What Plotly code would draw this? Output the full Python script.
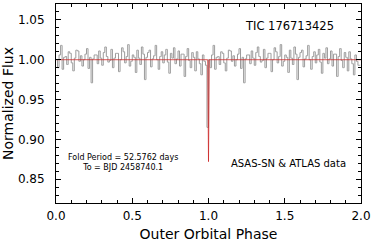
import plotly.graph_objects as go

# ---- data ----
bin_width = 0.01
flux_cycle = [
    1.000, 0.990, 1.006, 1.018, 0.988, 1.003, 1.004, 0.994, 1.010, 1.008,
    0.996, 0.986, 1.002, 1.012, 1.011, 0.998, 1.005, 0.992, 1.000, 1.007,
    1.014, 0.989, 1.003, 0.971, 1.001, 1.006, 1.006, 0.995, 1.011, 1.002,
    0.993, 1.009, 1.016, 1.004, 0.997, 0.999, 1.013, 0.990, 1.002, 1.008,
    1.008, 0.985, 1.000, 1.015, 1.010, 0.996, 1.004, 1.019, 0.992, 0.998,
    1.006, 1.003, 0.984, 1.012, 1.002, 0.994, 1.016, 1.007, 0.975, 1.003,
    1.009, 1.012, 0.991, 1.001, 1.005, 1.018, 1.000, 0.988, 1.004, 1.010,
    0.996, 1.006, 1.013, 0.997, 0.983, 1.008, 1.002, 1.015, 0.995, 1.001,
    1.011, 0.992, 1.007, 1.007, 0.979, 1.004, 1.014, 0.999, 0.990, 1.009,
    1.003, 0.986, 1.010, 1.001, 0.995, 0.981, 1.006, 0.998, 0.993,
]
dip_phase = 0.995
dip_flux = 0.915

model_phase = [0.0, 0.995, 1.0, 1.005, 2.0]
model_flux = [1.0, 1.0, 0.872, 1.0, 1.0]

x_ticks = [0.0, 0.5, 1.0, 1.5, 2.0]
x_ticklabels = ["0.0", "0.5", "1.0", "1.5", "2.0"]
y_ticks = [0.85, 0.90, 0.95, 1.00, 1.05]
y_ticklabels = ["0.85", "0.90", "0.95", "1.00", "1.05"]

# build folded (duplicated) series
phase = []
flux = []
for cycle in range(2):
    for i, f in enumerate(flux_cycle):
        phase.append(cycle + (i + 0.5) * bin_width)
        flux.append(f)
    if cycle == 0:
        phase.append(dip_phase)
        flux.append(dip_flux)
    else:
        phase.append(1 + dip_phase)
        flux.append(flux_cycle[-1])

FONT = "DejaVu Sans"

fig = go.Figure()
fig.add_trace(go.Scatter(x=phase, y=flux, mode="lines", line_shape="hvh",
                         line=dict(color="rgb(155,155,155)", width=1),
                         showlegend=False, hoverinfo="skip"))
fig.add_trace(go.Scatter(x=model_phase, y=model_flux, mode="lines",
                         line=dict(color="rgba(205,40,40,0.8)", width=1),
                         showlegend=False, hoverinfo="skip"))

axis_common = dict(showline=True, linecolor="black", linewidth=1, mirror="allticks",
                   ticks="inside", ticklen=5, tickcolor="black", showgrid=False,
                   zeroline=False, tickfont=dict(family=FONT, size=12, color="black"))

fig.update_xaxes(range=[0, 2], tickvals=x_ticks, ticktext=x_ticklabels,
                 minor=dict(ticks="inside", ticklen=3, dtick=0.1, tickcolor="black", showgrid=False),
                 ticklabelstandoff=2,
                 title=dict(text="Outer Orbital Phase", font=dict(family=FONT, size=14, color="black"),
                            standoff=6),
                 **axis_common)
fig.update_yaxes(range=[0.82, 1.07], tickvals=y_ticks, ticktext=y_ticklabels,
                 minor=dict(ticks="inside", ticklen=3, dtick=0.01, tickcolor="black", showgrid=False),
                 ticklabelstandoff=8,
                 title=dict(text="Normalized Flux", font=dict(family=FONT, size=14, color="black"),
                            standoff=4),
                 **axis_common)

fig.add_annotation(x=1.53, y=1.0425, text="TIC 176713425", showarrow=False,
                   font=dict(family=FONT, size=11.5, color="black"))
fig.add_annotation(x=0.44, y=0.871, text="Fold Period = 52.5762 days<br>To = BJD 2458740.1",
                   showarrow=False, font=dict(family=FONT, size=8, color="black"))
fig.add_annotation(x=1.525, y=0.87, text="ASAS-SN & ATLAS data", showarrow=False,
                   font=dict(family=FONT, size=10, color="black"))

fig.update_layout(width=374, height=242, margin=dict(l=56, r=11, t=3, b=37),
                  plot_bgcolor="white", paper_bgcolor="white")

fig.write_html("out.html", config={"displayModeBar": False},
               post_script="document.body.style.margin='0';document.body.style.overflow='hidden';")
